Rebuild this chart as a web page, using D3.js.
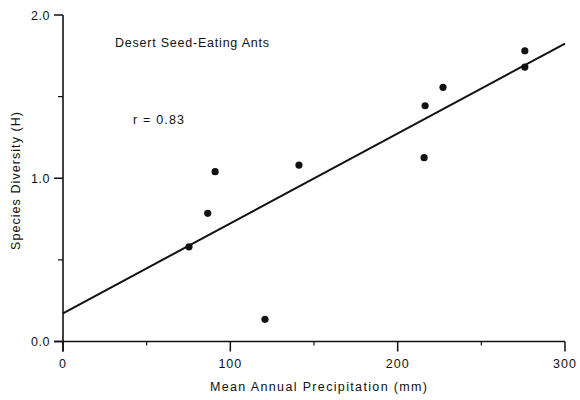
<!DOCTYPE html>
<html><head><meta charset="utf-8">
<script src="https://cdn.jsdelivr.net/npm/d3@7"></script>
<style>body{margin:0;background:#fff}svg{display:block}text{font-family:"Liberation Sans",Arial,sans-serif;fill:#111}</style>
</head><body>
<script>
const precip = [75.3, 86.5, 90.9, 120.7, 141, 216.4, 227.1, 215.8, 276, 276];
const diversity = [0.58, 0.785, 1.04, 0.136, 1.081, 1.444, 1.557, 1.126, 1.781, 1.681];
const fitX = [0, 300];
const fitY = [0.173, 1.825];
const xTicks = [0, 100, 200, 300];
const xMinor = [50, 150, 250];
const yTicks = [0, 1, 2];
const yMinor = [0.5, 1.5];
const title = "Desert Seed-Eating Ants";
const rLabel = "r = 0.83";

const W = 580, H = 400;
const svg = d3.select("body").append("svg").attr("width", W).attr("height", H);
const x = d3.scaleLinear().domain([0, 300]).range([63, 565]);
const y = d3.scaleLinear().domain([0, 2]).range([341.5, 15]);
const ink = "#111";

// x axis
const gx = svg.append("g");
gx.append("line").attr("x1", 54).attr("x2", x(300)).attr("y1", y(0)).attr("y2", y(0)).attr("stroke", ink).attr("stroke-width", 1.6);
gx.selectAll(".maj").data(xTicks).join("line").attr("x1", d => x(d)).attr("x2", d => x(d)).attr("y1", y(0)).attr("y2", y(0) + 10).attr("stroke", ink).attr("stroke-width", 1.5);
gx.selectAll(".min").data(xMinor).join("line").attr("class","min").attr("x1", d => x(d)).attr("x2", d => x(d)).attr("y1", y(0)).attr("y2", y(0) + 4).attr("stroke", ink).attr("stroke-width", 1.2);
gx.selectAll("text").data(xTicks).join("text").attr("x", d => x(d)).attr("y", y(0) + 26).attr("text-anchor", "middle").attr("font-size", 12.5).attr("letter-spacing", 1).text(d => d);

// y axis
const gy = svg.append("g");
gy.append("line").attr("x1", x(0)).attr("x2", x(0)).attr("y1", y(0) + 10).attr("y2", y(2)).attr("stroke", ink).attr("stroke-width", 1.6);
gy.selectAll(".maj").data(yTicks).join("line").attr("x1", x(0) - 9).attr("x2", x(0)).attr("y1", d => y(d)).attr("y2", d => y(d)).attr("stroke", ink).attr("stroke-width", 1.5);
gy.selectAll(".min").data(yMinor).join("line").attr("class","min").attr("x1", x(0) - 5).attr("x2", x(0)).attr("y1", d => y(d)).attr("y2", d => y(d)).attr("stroke", ink).attr("stroke-width", 1.2);
gy.selectAll("text").data(yTicks).join("text").attr("x", x(0) - 13).attr("y", d => y(d) + 4.5).attr("text-anchor", "end").attr("font-size", 12.5).attr("letter-spacing", 0.5).text(d => d.toFixed(1));

// axis titles
svg.append("text").attr("x", 210).attr("y", 391).attr("font-size", 12.5).attr("textLength", 217).attr("lengthAdjust", "spacing").text("Mean Annual Precipitation (mm)");
svg.append("text").attr("transform", "translate(20,250) rotate(-90)").attr("font-size", 12.5).attr("textLength", 138).attr("lengthAdjust", "spacing").text("Species Diversity (H)");

// annotations
svg.append("text").attr("x", 115).attr("y", 47).attr("font-size", 12.5).attr("textLength", 154).attr("lengthAdjust", "spacing").text(title);
svg.append("text").attr("x", 133).attr("y", 124).attr("font-size", 12.5).attr("textLength", 51).attr("lengthAdjust", "spacing").text(rLabel);

// regression line
svg.append("line").attr("x1", x(fitX[0])).attr("y1", y(fitY[0])).attr("x2", x(fitX[1])).attr("y2", y(fitY[1])).attr("stroke", ink).attr("stroke-width", 2);

// points
svg.selectAll("circle").data(precip.map((p, i) => [p, diversity[i]])).join("circle")
  .attr("cx", d => x(d[0])).attr("cy", d => y(d[1])).attr("r", 3.6).attr("fill", ink);
</script>
</body></html>
